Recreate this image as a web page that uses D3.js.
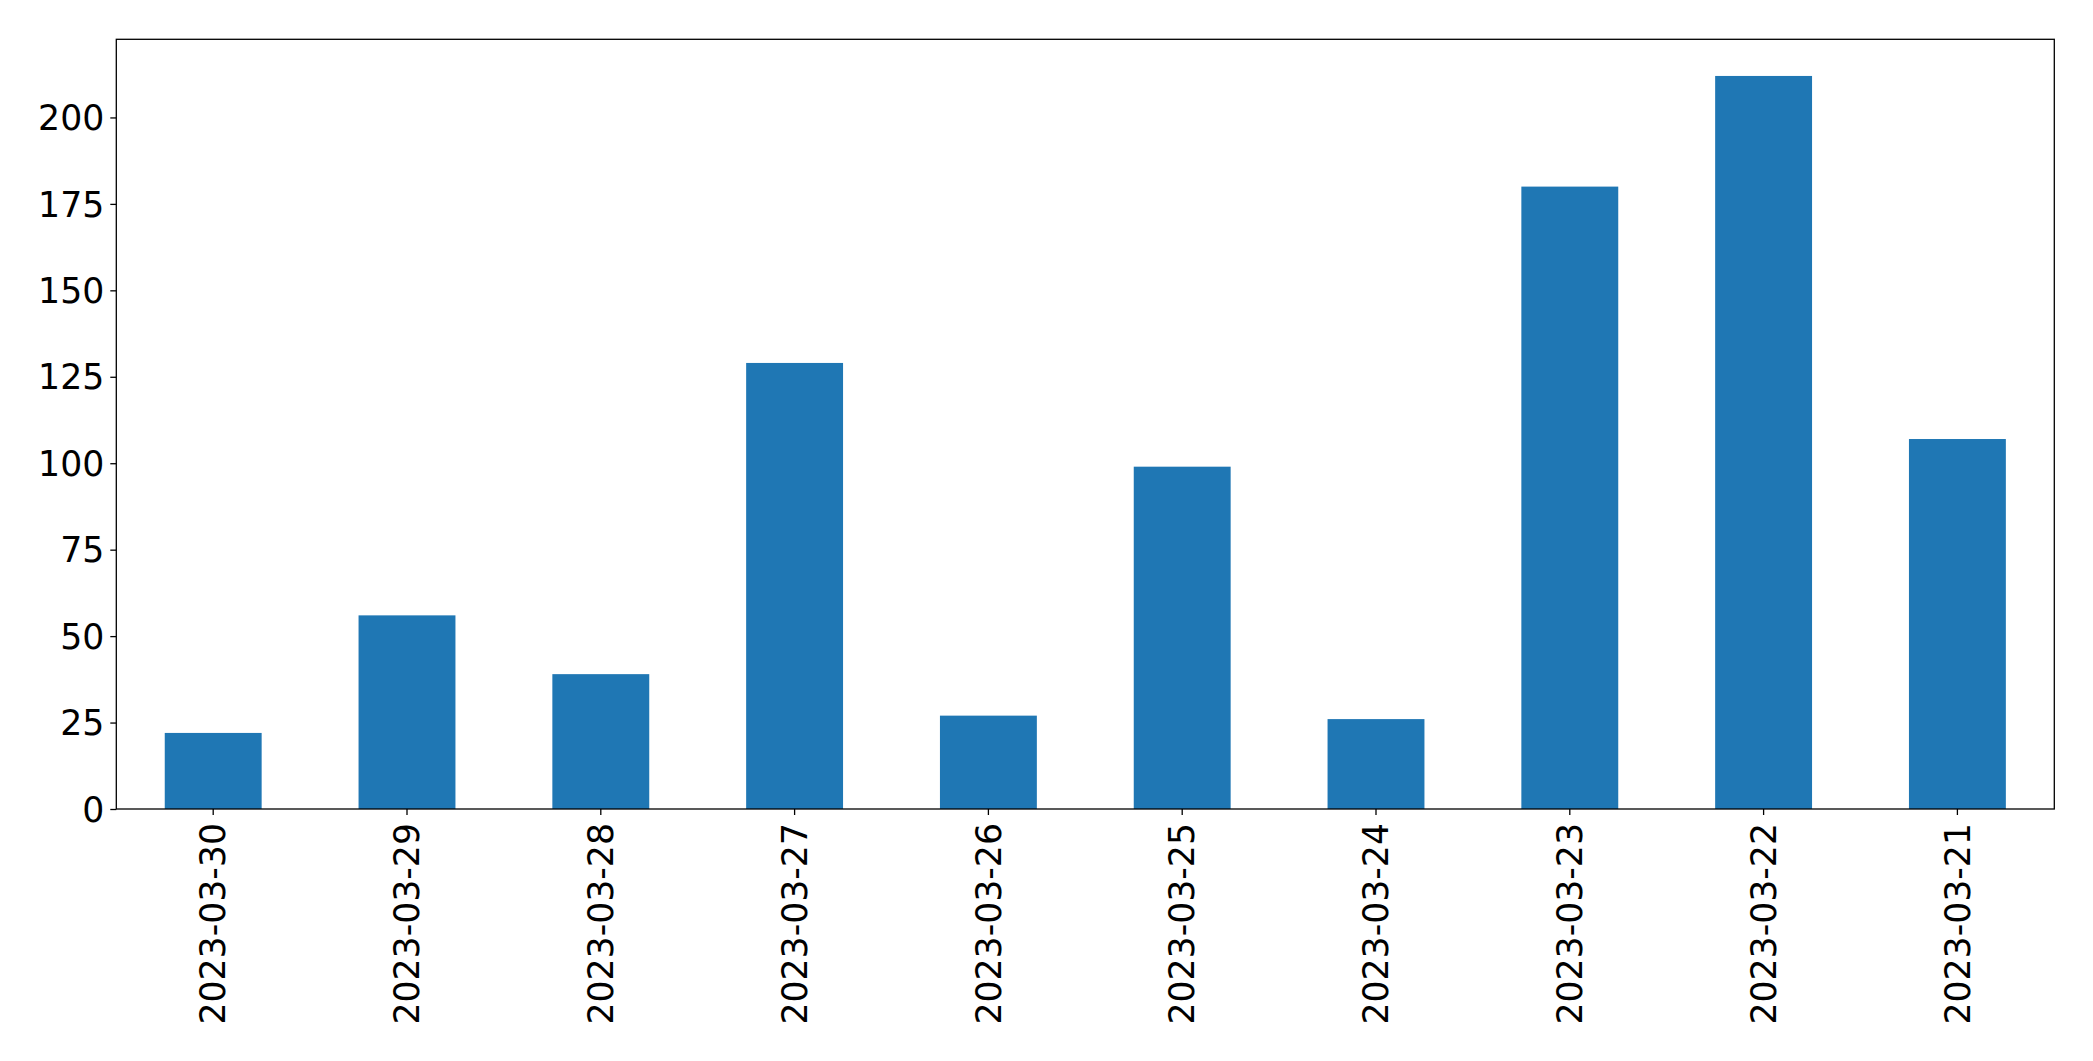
<!DOCTYPE html>
<html>
<head>
<meta charset="utf-8">
<script src="https://cdn.jsdelivr.net/npm/d3@7"></script>
<style>
  html, body { margin: 0; padding: 0; background: #fff; }
  svg { display: block; }
  text { font-family: "DejaVu Sans", sans-serif; fill: #000; }
</style>
</head>
<body>
<svg id="chart" width="2093" height="1061"></svg>
<script>
const categories = ["2023-03-30", "2023-03-29", "2023-03-28", "2023-03-27", "2023-03-26",
                    "2023-03-25", "2023-03-24", "2023-03-23", "2023-03-22", "2023-03-21"];
const values = [22, 56, 39, 129, 27, 99, 26, 180, 212, 107];
const yTicks = [0, 25, 50, 75, 100, 125, 150, 175, 200];

const W = 2093, H = 1061;
const margin = { left: 116.3, right: W - 2054.3, top: 39.3, bottom: H - 809 };
const svg = d3.select("#chart");
const iw = W - margin.left - margin.right;
const ih = H - margin.top - margin.bottom;
const g = svg.append("g").attr("transform", `translate(${margin.left},${margin.top})`);

const x = d3.scaleBand().domain(categories).range([0, iw]).paddingInner(0.5).paddingOuter(0.25);
const yMax = d3.max(values) * 1.05;
const y = d3.scaleLinear().domain([0, yMax]).range([ih, 0]);

g.selectAll("rect.bar").data(values).join("rect")
  .attr("class", "bar")
  .attr("x", (d, i) => x(categories[i]))
  .attr("width", x.bandwidth())
  .attr("y", d => y(d))
  .attr("height", d => y(0) - y(d))
  .attr("fill", "#1f77b4");

const fs = 34.7;
const yAxis = g.append("g").call(d3.axisLeft(y).tickValues(yTicks).tickSize(6).tickPadding(6).tickFormat(d3.format("d")));
yAxis.select(".domain").remove();
yAxis.selectAll("line").attr("stroke", "#000").attr("stroke-width", 1.3);
yAxis.selectAll("text").attr("font-size", fs).attr("font-family", "DejaVu Sans").attr("dy", "0.35em");

const xAxis = g.append("g").attr("transform", `translate(0,${ih})`)
  .call(d3.axisBottom(x).tickSize(6).tickPadding(6));
xAxis.select(".domain").remove();
xAxis.selectAll("line").attr("stroke", "#000").attr("stroke-width", 1.3);
xAxis.selectAll("text")
  .attr("font-size", fs).attr("font-family", "DejaVu Sans")
  .attr("text-anchor", "end")
  .attr("transform", "rotate(-90)")
  .attr("x", -14).attr("y", 0).attr("dy", "0.35em");

g.append("rect").attr("x", 0).attr("y", 0).attr("width", iw).attr("height", ih)
  .attr("fill", "none").attr("stroke", "#000").attr("stroke-width", 1.3);
</script>
</body>
</html>
